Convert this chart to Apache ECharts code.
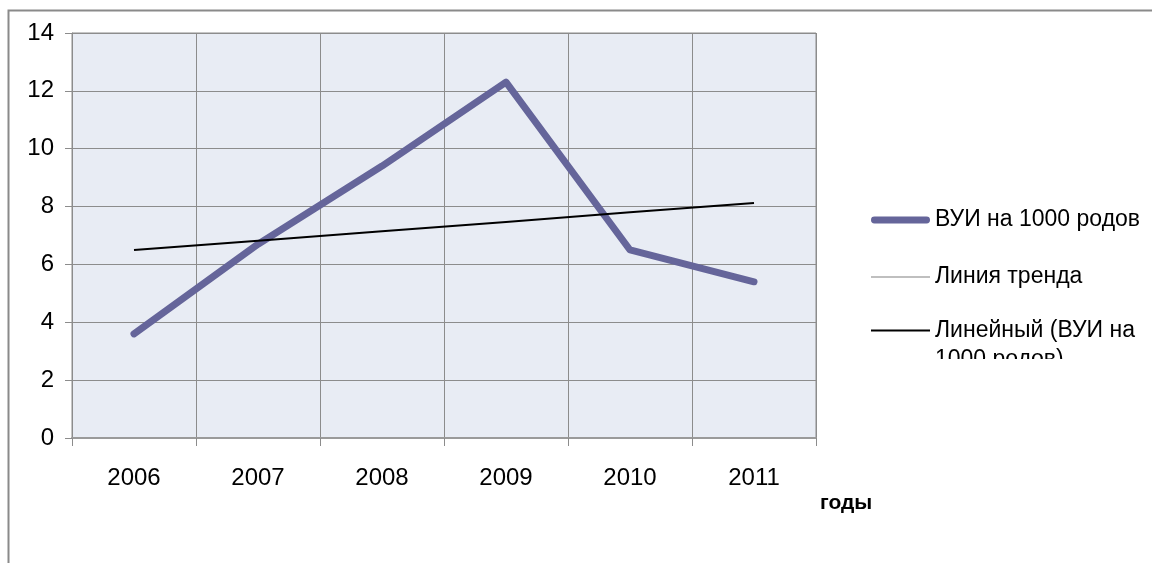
<!DOCTYPE html>
<html>
<head>
<meta charset="utf-8">
<script src="https://cdn.jsdelivr.net/npm/echarts@6/dist/echarts.min.js"></script>
<style>html,body{margin:0;padding:0;background:#fff}#c{width:1152px;height:563px}</style>
</head>
<body>
<div id="c"></div>
<script>
var years = ['2006', '2007', '2008', '2009', '2010', '2011'];
var vuiValues = [3.6, 6.7, 9.4, 12.3, 6.5, 5.4];
var trendValues = [6.5, 6.82, 7.15, 7.47, 7.8, 8.12];
var yTicks = {min: 0, max: 14, interval: 2};
var nameVui = 'ВУИ на 1000 родов';
var nameTrendLine = 'Линия тренда';
var nameLinear = 'Линейный (ВУИ на\n1000 родов)';
var xAxisName = 'годы';

var font = 'Liberation Sans, Arial, sans-serif';
var chart = echarts.init(document.getElementById('c'));
chart.setOption({
  animation: false,
  backgroundColor: '#fff',
  grid: {left: 72, right: 336, top: 33, bottom: 125, show: true,
         backgroundColor: '#e8ecf4', borderColor: '#8c8c8c', borderWidth: 1},
  xAxis: {
    type: 'category', data: years, boundaryGap: true,
    name: xAxisName, nameLocation: 'end', nameGap: 4,
    nameTextStyle: {fontFamily: font, fontSize: 21, fontWeight: 'bold', color: '#000',
                    align: 'left', verticalAlign: 'top', padding: [55, 0, 0, 0]},
    axisLine: {show: true, lineStyle: {color: '#9a9a9a', width: 2}},
    axisTick: {show: true, length: 8, alignWithLabel: false, lineStyle: {color: '#8c8c8c'}},
    axisLabel: {fontFamily: font, fontSize: 24, color: '#000', margin: 28},
    splitLine: {show: true, lineStyle: {color: '#8c8c8c', width: 1}}
  },
  yAxis: {
    type: 'value', min: yTicks.min, max: yTicks.max, interval: yTicks.interval,
    axisLine: {show: true, lineStyle: {color: '#8c8c8c'}},
    axisTick: {show: true, length: 7, lineStyle: {color: '#8c8c8c'}},
    axisLabel: {fontFamily: font, fontSize: 24, color: '#000', margin: 18},
    splitLine: {show: true, lineStyle: {color: '#8c8c8c', width: 1}}
  },
  legend: [
    {
      orient: 'vertical', left: 871, top: 207, padding: 0,
      itemWidth: 59, itemHeight: 14, itemGap: 31,
      textStyle: {fontFamily: font, fontSize: 23, color: '#000', lineHeight: 26},
      data: [
        {name: nameVui, icon: 'path://M3.5,0 L56.5,0 A3.5,3.5 0 0 1 56.5,7 L3.5,7 A3.5,3.5 0 0 1 3.5,0 Z',
         itemStyle: {color: '#65659a'}},
        {name: nameTrendLine, icon: 'path://M0,0 L59,0 L59,1 L0,1 Z', itemStyle: {color: '#808080'}}
      ]
    },
    {
      orient: 'vertical', left: 871, top: 287, padding: 0,
      itemWidth: 59, itemHeight: 14,
      textStyle: {fontFamily: font, fontSize: 23, color: '#000', lineHeight: 29},
      formatter: function (name) { return '\n' + name; },
      data: [
        {name: nameLinear, icon: 'path://M0,0 L59,0 L59,2 L0,2 Z', itemStyle: {color: '#000'}}
      ]
    }
  ],
  graphic: [
    {type: 'rect', z: 100, shape: {x: 925, y: 359, width: 227, height: 45},
     style: {fill: '#fff'}},
    {type: 'rect', z: 100, silent: true, shape: {x: 8.5, y: 10.5, width: 1300, height: 700},
     style: {fill: 'none', stroke: '#8a8a8a', lineWidth: 2}}
  ],
  series: [
    {name: nameVui, type: 'line', data: vuiValues, symbol: 'none',
     lineStyle: {color: '#65659a', width: 7, cap: 'round', join: 'round'},
     itemStyle: {color: '#65659a'}, z: 3},
    {name: nameTrendLine, type: 'line', data: [], symbol: 'none',
     lineStyle: {color: '#808080', width: 1}, itemStyle: {color: '#808080'}},
    {name: nameLinear, type: 'line', data: trendValues, symbol: 'none',
     lineStyle: {color: '#000', width: 2}, itemStyle: {color: '#000'}, z: 4}
  ]
});
</script>
</body>
</html>
